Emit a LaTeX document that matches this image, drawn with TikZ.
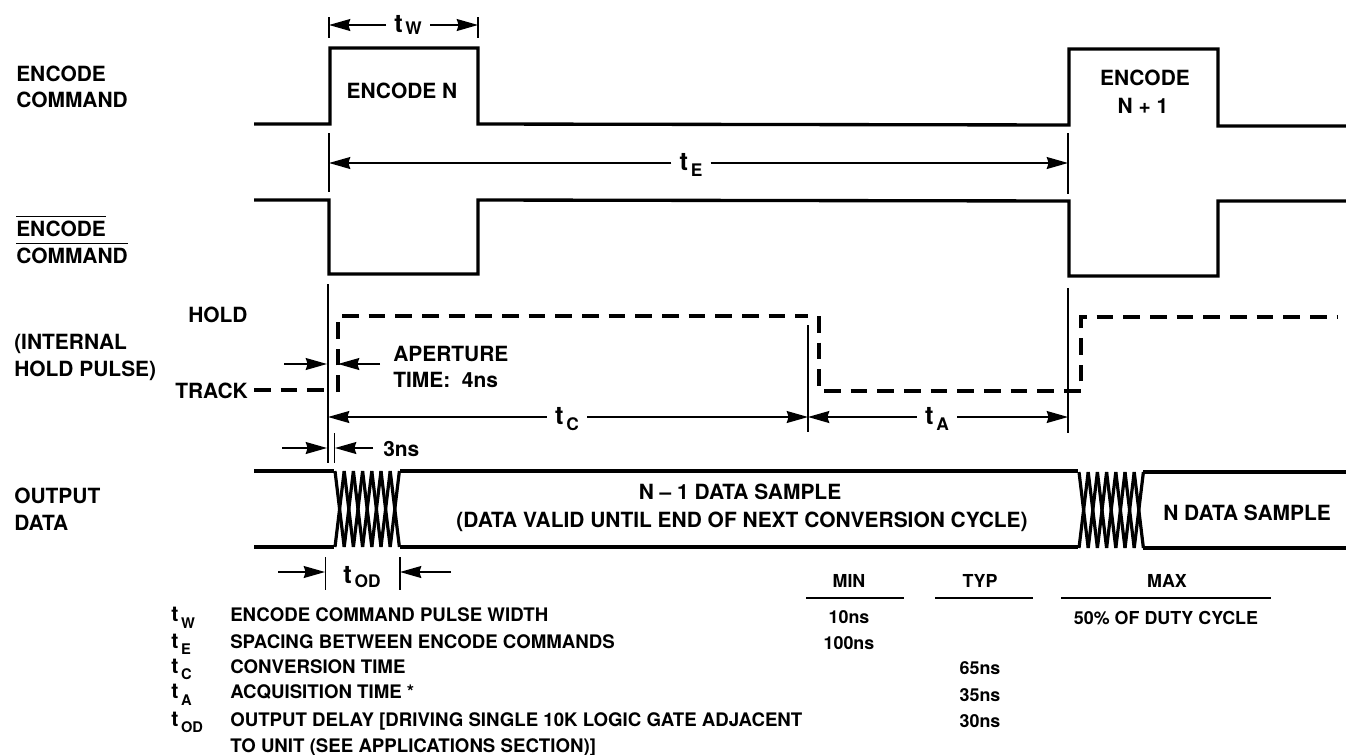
\documentclass[tikz,border=0pt]{standalone}
\usepackage{fontspec}
\setmainfont{TeX Gyre Heros}
\usetikzlibrary{arrows.meta}

\newcommand{\bigsub}[2]{{\fontsize{19}{19}\selectfont t}\hspace{2pt}\raisebox{-#2}{\fontsize{13}{13}\selectfont #1}}
\newcommand{\smallsub}[1]{{\fontsize{16}{16}\selectfont t}\hspace{2pt}\raisebox{-5pt}{\fontsize{11}{11}\selectfont #1}}

\tikzset{
    wave/.style={line width=2.5pt, line cap=butt, line join=miter},
    holdwave/.style={line width=2.5pt, dash pattern=on 12.5pt off 7.5pt},
    hatch/.style={line width=2.4pt},
    tick/.style={line width=1.1pt},
    dimline/.style={line width=1.1pt, -{Stealth[length=16pt,width=9pt,inset=1.5pt]}},
    bigtxt/.style={font=\fontsize{15.7}{15.7}\selectfont\bfseries, inner sep=0pt, anchor=base west},
    bigctxt/.style={bigtxt, anchor=base},
    txt/.style={font=\fontsize{14}{14}\selectfont\bfseries, inner sep=0pt, anchor=base west},
    ctxt/.style={font=\fontsize{13.4}{13.4}\selectfont\bfseries, inner sep=0pt, anchor=base},
    lbl/.style={font=\bfseries, inner sep=6pt, anchor=base},
    rulerow/.style={line width=1.2pt}
}

\begin{document}
\begin{tikzpicture}[x=0.75pt, y=-0.75pt]
    \useasboundingbox (0,0) rectangle (1346,754);

    % waveforms
    \draw[wave] (254,124) -- (330,124) -- (330,48) -- (478,48) -- (478,124) -- (1069,125) -- (1069,49) -- (1218,49) -- (1218,126) -- (1346,126);
    \draw[wave] (254,200) -- (329,200) -- (329,274) -- (478,274) -- (478,200) -- (1069,201) -- (1069,276) -- (1218,276) -- (1218,201) -- (1346,201);
    \draw[holdwave] (254,390) -- (326,390);
    \draw[holdwave] (338,392) -- (338,316) -- (808,316);
    \draw[holdwave] (819,316) -- (819,391) -- (1081,391) -- (1081,317) -- (1338,317);

    % output data
    \draw[wave] (254,471) -- (334,471);
    \draw[wave] (254,547) -- (334,547);
    \draw[wave] (400,471) -- (1078,471);
    \draw[wave] (400,547) -- (1078,547);
    \draw[wave] (1143,472) -- (1346,472);
    \draw[wave] (1143,548) -- (1346,548);
    \foreach \i in {0,...,6} {
        \draw[hatch] (335+9.2*\i,471) -- (335+9.2*\i+9.2,547);
        \draw[hatch] (335+9.2*\i+9.2,471) -- (335+9.2*\i,547);
        \draw[hatch] (1079+9.2*\i,472) -- (1079+9.2*\i+9.2,548);
        \draw[hatch] (1079+9.2*\i+9.2,472) -- (1079+9.2*\i,548);
    }

    % guide lines
    \draw[tick] (329,17) -- (329,38);
    \draw[tick] (478,17) -- (478,38);
    \draw[tick] (329,133) -- (329,192);
    \draw[tick] (1068,133) -- (1068,194);
    \draw[tick] (328,284) -- (328,463);
    \draw[tick] (334.5,433) -- (334.5,463);
    \draw[tick] (808,325) -- (808,432);
    \draw[tick] (1068,288) -- (1068,433);
    \draw[tick] (325.5,557) -- (325.5,590);
    \draw[tick] (400,557) -- (400,590);

    % timing labels
    \node[lbl] (tw) at (408,32) {\bigsub{W}{2pt}};
    \node[lbl] (te) at (691,170) {\bigsub{E}{5pt}};
    \node[lbl] (tc) at (567,424) {\bigsub{C}{5pt}};
    \node[lbl] (ta) at (937,424) {\bigsub{A}{5pt}};
    \node[lbl] (tod) at (362,583) {\bigsub{OD}{3pt}};
    \coordinate (twL) at (329,25);
    \coordinate (twR) at (478,25);
    \coordinate (teL) at (329,163);
    \coordinate (teR) at (1068,163);
    \coordinate (tcL) at (328,417);
    \coordinate (tcR) at (808,417);
    \coordinate (taL) at (808,417);
    \coordinate (taR) at (1068,417);
    \draw[dimline] (tw.west |- twL) -- (twL);
    \draw[dimline] (tw.east |- twR) -- (twR);
    \draw[dimline] (te.west |- teL) -- (teL);
    \draw[dimline] (te.east |- teR) -- (teR);
    \draw[dimline] (tc.west |- tcL) -- (tcL);
    \draw[dimline] (tc.east |- tcR) -- (tcR);
    \draw[dimline] (ta.west |- taL) -- (taL);
    \draw[dimline] (ta.east |- taR) -- (taR);

    % free arrows
    \coordinate (apA) at (284,364);
    \coordinate (apB) at (327,364);
    \coordinate (apC) at (380,364);
    \coordinate (apD) at (338,364);
    \coordinate (nsA) at (282,448);
    \coordinate (nsB) at (327,448);
    \coordinate (nsC) at (373,448);
    \coordinate (nsD) at (335,448);
    \coordinate (odA) at (278,572);
    \coordinate (odB) at (325,572);
    \coordinate (odC) at (451,572);
    \coordinate (odD) at (400,572);
    \draw[dimline] (apA) -- (apB);
    \draw[dimline] (apC) -- (apD);
    \draw[dimline] (nsA) -- (nsB);
    \draw[dimline] (nsC) -- (nsD);
    \draw[dimline] (odA) -- (odB);
    \draw[dimline] (odC) -- (odD);

    % left labels
    \node[bigtxt] (enc1) at (16,81) {ENCODE};
    \node[bigtxt] (enc2) at (16,107) {COMMAND};
    \node[bigtxt] (nenc1) at (16,236) {ENCODE};
    \node[bigtxt] (nenc2) at (16,263) {COMMAND};
    \draw[tick] (16,216.5) -- (106,216.5);
    \draw[tick] (16,243.5) -- (128,243.5);
    \node[bigtxt] (ihp1) at (14,349) {(INTERNAL};
    \node[bigtxt] (ihp2) at (14,376) {HOLD PULSE)};
    \node[bigtxt] (hold) at (188,322.5) {HOLD};
    \node[bigtxt] (track) at (175,398) {TRACK};
    \node[bigtxt] (outp1) at (14,503) {OUTPUT};
    \node[bigtxt] (outp2) at (14,530) {DATA};

    % pulse and output text
    \node[bigctxt] (encn) at (402,98) {ENCODE N};
    \node[bigctxt] (encp1) at (1145,85) {ENCODE};
    \node[bigctxt] (encp2) at (1143,113) {N + 1};
    \node[bigtxt] (apert) at (393,361) {APERTURE};
    \node[bigtxt] (aptime) at (393,387) {TIME:\ \ 4ns};
    \node[bigtxt] (ns3) at (383,456) {3ns};
    \node[bigctxt] (ndata1) at (740,499) {N -- 1 DATA SAMPLE};
    \node[bigctxt] (ndata2) at (742,527) {(DATA VALID UNTIL END OF NEXT CONVERSION CYCLE)};
    \node[bigctxt] (ndata3) at (1247,520) {N DATA SAMPLE};

    % table
    \node[ctxt] (min) at (849,587) {MIN};
    \node[ctxt] (typ) at (980,587) {TYP};
    \node[ctxt] (max) at (1167,587) {MAX};
    \draw[rulerow] (806,598) -- (904,598);
    \draw[rulerow] (935,598) -- (1033,598);
    \draw[rulerow] (1061,598) -- (1271,598);
    \node[ctxt] (min1) at (849,623) {10ns};
    \node[ctxt] (min2) at (849,649) {100ns};
    \node[ctxt] (max1) at (1166,624) {50\% OF DUTY CYCLE};
    \node[ctxt] (typ1) at (980,674) {65ns};
    \node[ctxt] (typ2) at (980,701) {35ns};
    \node[ctxt] (typ3) at (980,727) {30ns};

    \node[txt] (r1) at (230,621.5) {ENCODE COMMAND PULSE WIDTH};
    \node[txt] (r2) at (230,648) {SPACING BETWEEN ENCODE COMMANDS};
    \node[txt] (r3) at (230,673) {CONVERSION TIME};
    \node[txt] (r4) at (230,698.5) {ACQUISITION TIME *};
    \node[txt] (r5) at (230,726) {OUTPUT DELAY [DRIVING SINGLE 10K LOGIC GATE ADJACENT};
    \node[txt] (r6) at (230,752) {TO UNIT (SEE APPLICATIONS SECTION)]};
    \node[txt] (s1) at (171,621.5) {\smallsub{W}};
    \node[txt] (s2) at (171,648) {\smallsub{E}};
    \node[txt] (s3) at (171,673) {\smallsub{C}};
    \node[txt] (s4) at (171,698.5) {\smallsub{A}};
    \node[txt] (s5) at (171,726) {\smallsub{OD}};
\end{tikzpicture}
\end{document}
